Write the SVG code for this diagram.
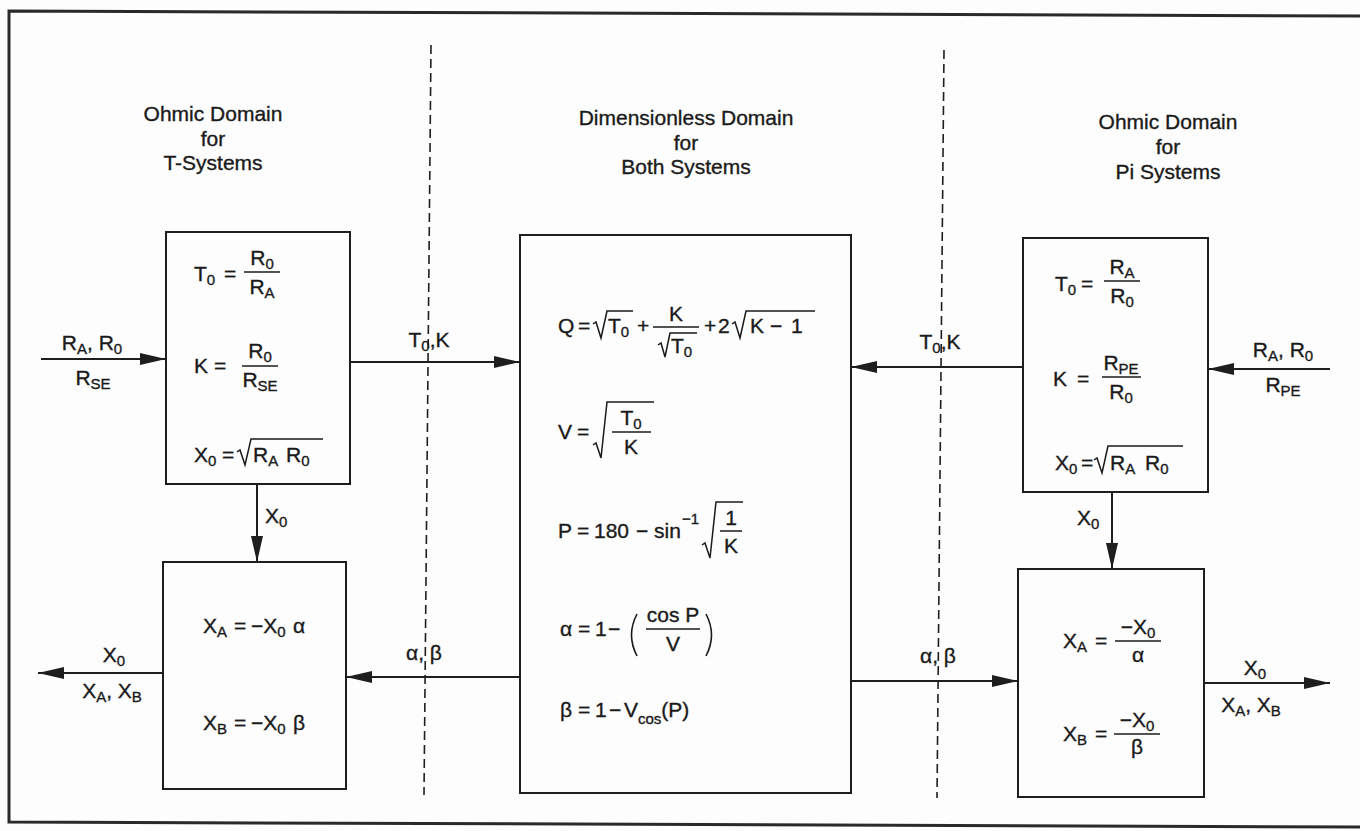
<svg xmlns="http://www.w3.org/2000/svg" width="1360" height="831" viewBox="0 0 1360 831">
<defs>
<style>
text { font-family: "Liberation Sans", Arial, Helvetica, sans-serif; fill: #1a1a1a; stroke: #1a1a1a; stroke-width: 0.35px; }
.title { font-size: 21px; text-anchor: middle; }
.f { font-size: 21px; }
.s { font-size: 15px; }
.m { text-anchor: middle; }
.box { fill: none; stroke: #1e1e1e; stroke-width: 2; }
.conn { fill: none; stroke: #1e1e1e; stroke-width: 2; }
.dash { fill: none; stroke: #1e1e1e; stroke-width: 1.6; stroke-dasharray: 9 5; }
.bar { stroke: #1a1a1a; stroke-width: 1.5; }
.rad { fill: none; stroke: #1a1a1a; stroke-width: 1.5; stroke-linejoin: miter; }
.paren { fill: none; stroke: #1a1a1a; stroke-width: 1.6; }
.frame { fill: none; stroke: #2a2a2a; stroke-width: 3; }
</style>
<marker id="arrow" viewBox="0 0 26 12" refX="26" refY="6" markerWidth="26" markerHeight="12" markerUnits="userSpaceOnUse" orient="auto">
<path d="M0,0 L26,6 L0,12 z" fill="#1e1e1e"/>
</marker>
</defs>
<rect x="0" y="0" width="1360" height="831" fill="#fdfdfd"/>
<g id="frame">
<path class="frame" d="M1362,16 L9,11 L9,822 L1362,827"/>
</g>
<g id="domain-dividers">
<line class="dash" x1="431" y1="45" x2="424" y2="795"/>
<line class="dash" x1="944" y1="50" x2="937" y2="798"/>
</g>
<g id="titles">
<text class="title" x="213" y="121">Ohmic Domain</text>
<text class="title" x="213" y="146">for</text>
<text class="title" x="213" y="170">T-Systems</text>
<text class="title" x="686" y="125">Dimensionless Domain</text>
<text class="title" x="686" y="150">for</text>
<text class="title" x="686" y="174">Both Systems</text>
<text class="title" x="1168" y="129">Ohmic Domain</text>
<text class="title" x="1168" y="154">for</text>
<text class="title" x="1168" y="179">Pi Systems</text>
</g>

<g id="t-system-params">
<rect class="box" x="166" y="232" width="184" height="252"/>
<text class="f" x="194" y="281">T<tspan class="s" dy="4">0</tspan><tspan dy="-4" x="224">=</tspan></text>
<text class="f m" x="262" y="265">R<tspan class="s" dy="4">0</tspan></text>
<line class="bar" x1="244" y1="272" x2="280" y2="272"/>
<text class="f m" x="262" y="294">R<tspan class="s" dy="4">A</tspan></text>
<text class="f" x="194" y="373">K<tspan x="214">=</tspan></text>
<text class="f m" x="260" y="358">R<tspan class="s" dy="4">0</tspan></text>
<line class="bar" x1="242" y1="366" x2="278" y2="366"/>
<text class="f m" x="260" y="387">R<tspan class="s" dy="4">SE</tspan></text>
<text class="f" x="194" y="462">X<tspan class="s" dy="4">0</tspan><tspan dy="-4" x="222">=</tspan></text>
<path class="rad" d="M237,452 L240,450 L245,465 L251,439 L323,439"/>
<text class="f" x="253" y="462">R<tspan class="s" dy="4">A</tspan><tspan dy="-4" x="286">R</tspan><tspan class="s" dy="4">0</tspan></text>
</g>

<g id="t-system-reactances">
<rect class="box" x="163" y="562" width="183" height="227"/>
<text class="f" x="203" y="633">X<tspan class="s" dy="4">A</tspan><tspan dy="-4" x="234">=</tspan><tspan x="251">−X</tspan><tspan class="s" dy="4">0</tspan><tspan dy="-4" x="293">α</tspan></text>
<text class="f" x="203" y="730">X<tspan class="s" dy="4">B</tspan><tspan dy="-4" x="234">=</tspan><tspan x="251">−X</tspan><tspan class="s" dy="4">0</tspan><tspan dy="-4" x="293">β</tspan></text>
</g>

<g id="dimensionless-domain">
<rect class="box" x="520" y="235" width="331" height="558"/>
<!-- Q -->
<text class="f" x="558" y="333">Q<tspan x="578">=</tspan></text>
<path class="rad" d="M593,324 L596,322 L601,338 L607,311 L633,311"/>
<text class="f" x="608" y="333">T<tspan class="s" dy="4">0</tspan></text>
<text class="f" x="637" y="333">+</text>
<text class="f m" x="676" y="321">K</text>
<line class="bar" x1="653" y1="327" x2="699" y2="327"/>
<path class="rad" d="M658,345 L661,343 L665,357 L670,333 L697,333"/>
<text class="f" x="671" y="353">T<tspan class="s" dy="4">0</tspan></text>
<text class="f" x="704" y="333">+<tspan x="718">2</tspan></text>
<path class="rad" d="M732,324 L735,322 L740,338 L746,311 L815,311"/>
<text class="f" x="750" y="333">K<tspan x="770">−</tspan><tspan x="791">1</tspan></text>
<!-- V -->
<text class="f" x="558" y="439">V<tspan x="577">=</tspan></text>
<path class="rad" d="M593,445 L596,443 L601,458 L607,402 L654,402"/>
<text class="f m" x="631" y="425">T<tspan class="s" dy="4">0</tspan></text>
<line class="bar" x1="612" y1="432" x2="651" y2="432"/>
<text class="f m" x="631" y="454">K</text>
<!-- P -->
<text class="f" x="558" y="538">P<tspan x="577">=</tspan><tspan x="594">180</tspan><tspan x="636">−</tspan><tspan x="654">sin</tspan></text>
<text class="s" x="682" y="524">−1</text>
<path class="rad" d="M702,545 L705,543 L710,558 L716,502 L743,502"/>
<text class="f m" x="731" y="525">1</text>
<line class="bar" x1="720" y1="531" x2="742" y2="531"/>
<text class="f m" x="731" y="553">K</text>
<!-- alpha -->
<text class="f" x="560" y="636">α<tspan x="578">=</tspan><tspan x="595">1</tspan><tspan x="608">−</tspan></text>
<path class="paren" d="M637,614 Q626,635 637,656"/>
<text class="f m" x="673" y="622">cos P</text>
<line class="bar" x1="646" y1="629" x2="700" y2="629"/>
<text class="f m" x="673" y="651">V</text>
<path class="paren" d="M706,614 Q717,635 706,656"/>
<!-- beta -->
<text class="f" x="560" y="717">β<tspan x="578">=</tspan><tspan x="595">1</tspan><tspan x="609">−</tspan><tspan x="624">V</tspan><tspan class="s" dy="7">cos</tspan><tspan dy="-7">(P)</tspan></text>
</g>

<g id="pi-system-params">
<rect class="box" x="1023" y="238" width="185" height="254"/>
<text class="f" x="1055" y="291">T<tspan class="s" dy="4">0</tspan><tspan dy="-4" x="1081">=</tspan></text>
<text class="f m" x="1122" y="274">R<tspan class="s" dy="4">A</tspan></text>
<line class="bar" x1="1104" y1="281" x2="1140" y2="281"/>
<text class="f m" x="1122" y="303">R<tspan class="s" dy="4">0</tspan></text>
<text class="f" x="1053" y="386">K<tspan x="1077">=</tspan></text>
<text class="f m" x="1121" y="370">R<tspan class="s" dy="4">PE</tspan></text>
<line class="bar" x1="1102" y1="377" x2="1141" y2="377"/>
<text class="f m" x="1121" y="399">R<tspan class="s" dy="4">0</tspan></text>
<text class="f" x="1055" y="470">X<tspan class="s" dy="4">0</tspan><tspan dy="-4" x="1081">=</tspan></text>
<path class="rad" d="M1094,460 L1097,458 L1102,473 L1108,446 L1183,446"/>
<text class="f" x="1110" y="470">R<tspan class="s" dy="4">A</tspan><tspan dy="-4" x="1145">R</tspan><tspan class="s" dy="4">0</tspan></text>
</g>

<g id="pi-system-reactances">
<rect class="box" x="1018" y="569" width="186" height="228"/>
<text class="f" x="1063" y="648">X<tspan class="s" dy="4">A</tspan><tspan dy="-4" x="1095">=</tspan></text>
<text class="f m" x="1138" y="634">−X<tspan class="s" dy="4">0</tspan></text>
<line class="bar" x1="1115" y1="641" x2="1161" y2="641"/>
<text class="f m" x="1138" y="662">α</text>
<text class="f" x="1063" y="741">X<tspan class="s" dy="4">B</tspan><tspan dy="-4" x="1095">=</tspan></text>
<text class="f m" x="1137" y="727">−X<tspan class="s" dy="4">0</tspan></text>
<line class="bar" x1="1114" y1="734" x2="1160" y2="734"/>
<text class="f m" x="1137" y="754">β</text>
</g>

<g id="connectors">
<line class="conn" x1="41" y1="359" x2="166" y2="359" marker-end="url(#arrow)"/>
<line class="conn" x1="350" y1="362" x2="520" y2="362" marker-end="url(#arrow)"/>
<line class="conn" x1="1330" y1="369" x2="1208" y2="369" marker-end="url(#arrow)"/>
<line class="conn" x1="1023" y1="367" x2="851" y2="367" marker-end="url(#arrow)"/>
<line class="conn" x1="257" y1="484" x2="257" y2="562" marker-end="url(#arrow)"/>
<line class="conn" x1="1112" y1="492" x2="1112" y2="569" marker-end="url(#arrow)"/>
<line class="conn" x1="520" y1="677" x2="346" y2="677" marker-end="url(#arrow)"/>
<line class="conn" x1="851" y1="681" x2="1018" y2="681" marker-end="url(#arrow)"/>
<line class="conn" x1="163" y1="673" x2="38" y2="673" marker-end="url(#arrow)"/>
<line class="conn" x1="1204" y1="683" x2="1330" y2="683" marker-end="url(#arrow)"/>
<text class="f m" x="92" y="350">R<tspan class="s" dy="4">A</tspan><tspan dy="-4">, R</tspan><tspan class="s" dy="4">0</tspan></text>
<text class="f m" x="93" y="385">R<tspan class="s" dy="4">SE</tspan></text>
<text class="f m" x="429" y="347">T<tspan class="s" dy="4">0</tspan><tspan dy="-4">,K</tspan></text>
<text class="f m" x="1283" y="357">R<tspan class="s" dy="4">A</tspan><tspan dy="-4">, R</tspan><tspan class="s" dy="4">0</tspan></text>
<text class="f m" x="1283" y="392">R<tspan class="s" dy="4">PE</tspan></text>
<text class="f m" x="940" y="349">T<tspan class="s" dy="4">0</tspan><tspan dy="-4">,K</tspan></text>
<text class="f" x="265" y="523">X<tspan class="s" dy="4">0</tspan></text>
<text class="f" x="1077" y="525">X<tspan class="s" dy="4">0</tspan></text>
<text class="f m" x="424" y="660">α, β</text>
<text class="f m" x="938" y="663">α, β</text>
<text class="f m" x="114" y="662">X<tspan class="s" dy="4">0</tspan></text>
<text class="f m" x="112" y="698">X<tspan class="s" dy="4">A</tspan><tspan dy="-4">, X</tspan><tspan class="s" dy="4">B</tspan></text>
<text class="f m" x="1255" y="675">X<tspan class="s" dy="4">0</tspan></text>
<text class="f m" x="1251" y="712">X<tspan class="s" dy="4">A</tspan><tspan dy="-4">, X</tspan><tspan class="s" dy="4">B</tspan></text>
</g>
</svg>
